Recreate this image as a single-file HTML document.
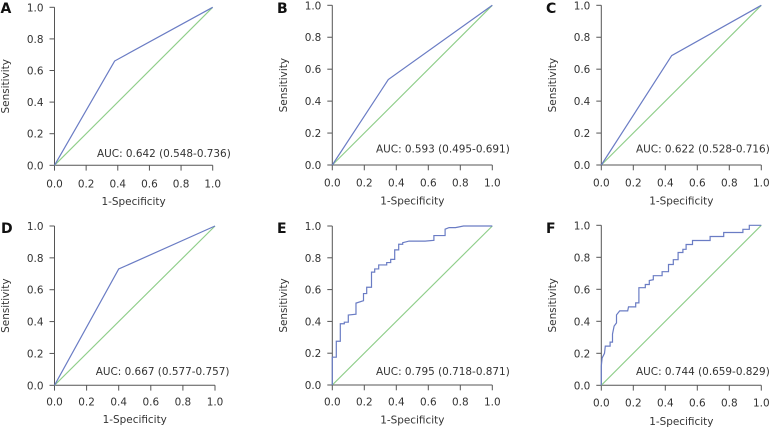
<!DOCTYPE html>
<html>
<head>
<meta charset="utf-8">
<style>
html,body{margin:0;padding:0;background:#fff;width:771px;height:431px;overflow:hidden}
svg{display:block}
text{font-family:"DejaVu Sans","Liberation Sans",sans-serif;fill:#333;font-size:10.45px}
.letter{font-family:"DejaVu Sans","Liberation Sans",sans-serif;font-weight:bold;font-size:14px;fill:#111}
</style>
</head>
<body>
<svg id="chart" width="771" height="431" viewBox="0 0 771 431" xmlns="http://www.w3.org/2000/svg"></svg>
<script>
const tickLabels = ["0.0","0.2","0.4","0.6","0.8","1.0"];
const tickValues = [0,0.2,0.4,0.6,0.8,1];
const panelLetters = ["A","B","C","D","E","F"];
const aucLabels = ["AUC: 0.642 (0.548-0.736)","AUC: 0.593 (0.495-0.691)","AUC: 0.622 (0.528-0.716)","AUC: 0.667 (0.577-0.757)","AUC: 0.795 (0.718-0.871)","AUC: 0.744 (0.659-0.829)"];
const fprA = [0,0.38,1];
const tprA = [0,0.66,1];
const fprB = [0,0.35,1];
const tprB = [0,0.535,1];
const fprC = [0,0.44,1];
const tprC = [0,0.685,1];
const fprD = [0,0.40,1];
const tprD = [0,0.73,1];
const fprE = [0,0,.025,.025,.05,.05,.075,.075,.1,.1,.148,.148,.195,.195,.215,.215,.245,.245,.265,.265,.29,.29,.34,.34,.365,.365,.39,.39,.415,.415,.44,.44,.48,.58,.635,.635,.705,.705,.73,.77,.82,1];
const tprE = [0,.175,.175,.275,.275,.385,.385,.395,.395,.44,.445,.515,.53,.575,.575,.615,.615,.71,.71,.73,.73,.755,.755,.77,.77,.79,.79,.85,.85,.885,.885,.895,.905,.905,.91,.94,.94,.98,.99,.99,1,1];
const fprF = [0,0,.005,.02,.025,.055,.055,.07,.07,.08,.095,.095,.115,.165,.17,.215,.215,.235,.235,.275,.275,.3,.3,.325,.325,.38,.38,.42,.42,.45,.45,.48,.48,.51,.51,.53,.53,.57,.57,.68,.68,.765,.765,.885,.885,.925,.925,1];
const tprF = [0,.12,.17,.2,.245,.245,.27,.27,.32,.37,.39,.44,.465,.465,.49,.49,.515,.515,.61,.61,.63,.63,.655,.66,.685,.685,.71,.71,.755,.755,.785,.785,.83,.83,.85,.85,.88,.88,.905,.905,.93,.93,.955,.955,.975,.975,1,1];
const fprSeries = [fprA,fprB,fprC,fprD,fprE,fprF];
const tprSeries = [tprA,tprB,tprC,tprD,tprE,tprF];

const layouts = [
  {x0:54.5,x1:212.7,yTop:7.3,yBot:165.3,lx:0.5,ly:13,ax:97,ay:157,xl:22.4,xt:39.7},
  {x0:332.3,x1:492.3,yTop:5.3,yBot:165,lx:277,ly:13,ax:376,ay:152.7,xl:21.7,xt:39.7},
  {x0:601.3,x1:761.3,yTop:5.3,yBot:165,lx:546,ly:13,ax:636,ay:152.7,xl:21.7,xt:39.7},
  {x0:54.5,x1:215,yTop:226,yBot:385.3,lx:1,ly:233,ax:95.7,ay:375,xl:20,xt:37.7},
  {x0:332.3,x1:492.3,yTop:226,yBot:385,lx:277,ly:233,ax:376,ay:375,xl:20.7,xt:38.3},
  {x0:601.3,x1:761.3,yTop:225.3,yBot:385.3,lx:546,ly:233,ax:636,ay:375,xl:21.4,xt:39.7}
];
const svg = document.getElementById('chart');
const NS = 'http://www.w3.org/2000/svg';
function mk(parent,tag,attrs,txt){
  const e = document.createElementNS(NS,tag);
  for(const k in attrs) e.setAttribute(k,attrs[k]);
  if(txt!==undefined) e.textContent = txt;
  parent.appendChild(e);
  return e;
}
layouts.forEach((p,i)=>{
  const sx = v=>p.x0+(p.x1-p.x0)*v;
  const sy = v=>p.yBot-(p.yBot-p.yTop)*v;
  const g = mk(svg,'g',{});
  
  

  const letter = mk(g,'text',{x:p.lx,y:p.ly,class:'letter'},panelLetters[i]);
  
  

  const xAxis = mk(g,'line',{x1:sx(0),x2:sx(1),y1:p.yBot,y2:p.yBot,stroke:'#555','stroke-width':1});
  
  
  const yAxis = mk(g,'line',{x1:p.x0,x2:p.x0,y1:sy(0),y2:sy(1),stroke:'#555','stroke-width':1});
  
  

  tickValues.forEach((v,j)=>{
    const xTick = mk(g,'line',{x1:sx(v),x2:sx(v),y1:p.yBot,y2:p.yBot+5.3,stroke:'#555','stroke-width':1});
    
    
    const yTick = mk(g,'line',{x1:p.x0,x2:p.x0-5,y1:sy(v),y2:sy(v),stroke:'#555','stroke-width':1});
    
    
    const xl = mk(g,'text',{x:sx(v),y:p.yBot+p.xl,'text-anchor':'middle'},tickLabels[j]);
    
    
    const yl = mk(g,'text',{x:p.x0-11,y:sy(v)+4,'text-anchor':'end'},tickLabels[j]);
    
    
  });

  const xt = mk(g,'text',{x:(sx(0)+sx(1))/2,y:p.yBot+p.xt,'text-anchor':'middle'},'1-Specificity');
  
  
  const yx = p.x0-45.5, yy=(p.yTop+p.yBot)/2;
  const yt = mk(g,'text',{x:yx,y:yy,'text-anchor':'middle',transform:'rotate(-90 '+yx+' '+yy+')'},'Sensitivity');
  
  

  const diag = mk(g,'line',{x1:sx(0),y1:sy(0),x2:sx(1),y2:sy(1),stroke:'#8fce8a','stroke-width':1.15});
  
  

  const pts = fprSeries[i].map((f,k)=>sx(f).toFixed(2)+','+sy(tprSeries[i][k]).toFixed(2)).join(' ');
  const roc = mk(g,'polyline',{points:pts,fill:'none',stroke:'#6a7cc4','stroke-width':1.2});
  
  

  const auc = mk(g,'text',{x:p.ax,y:p.ay},aucLabels[i]);
  
  
});
</script>
</body>
</html>
